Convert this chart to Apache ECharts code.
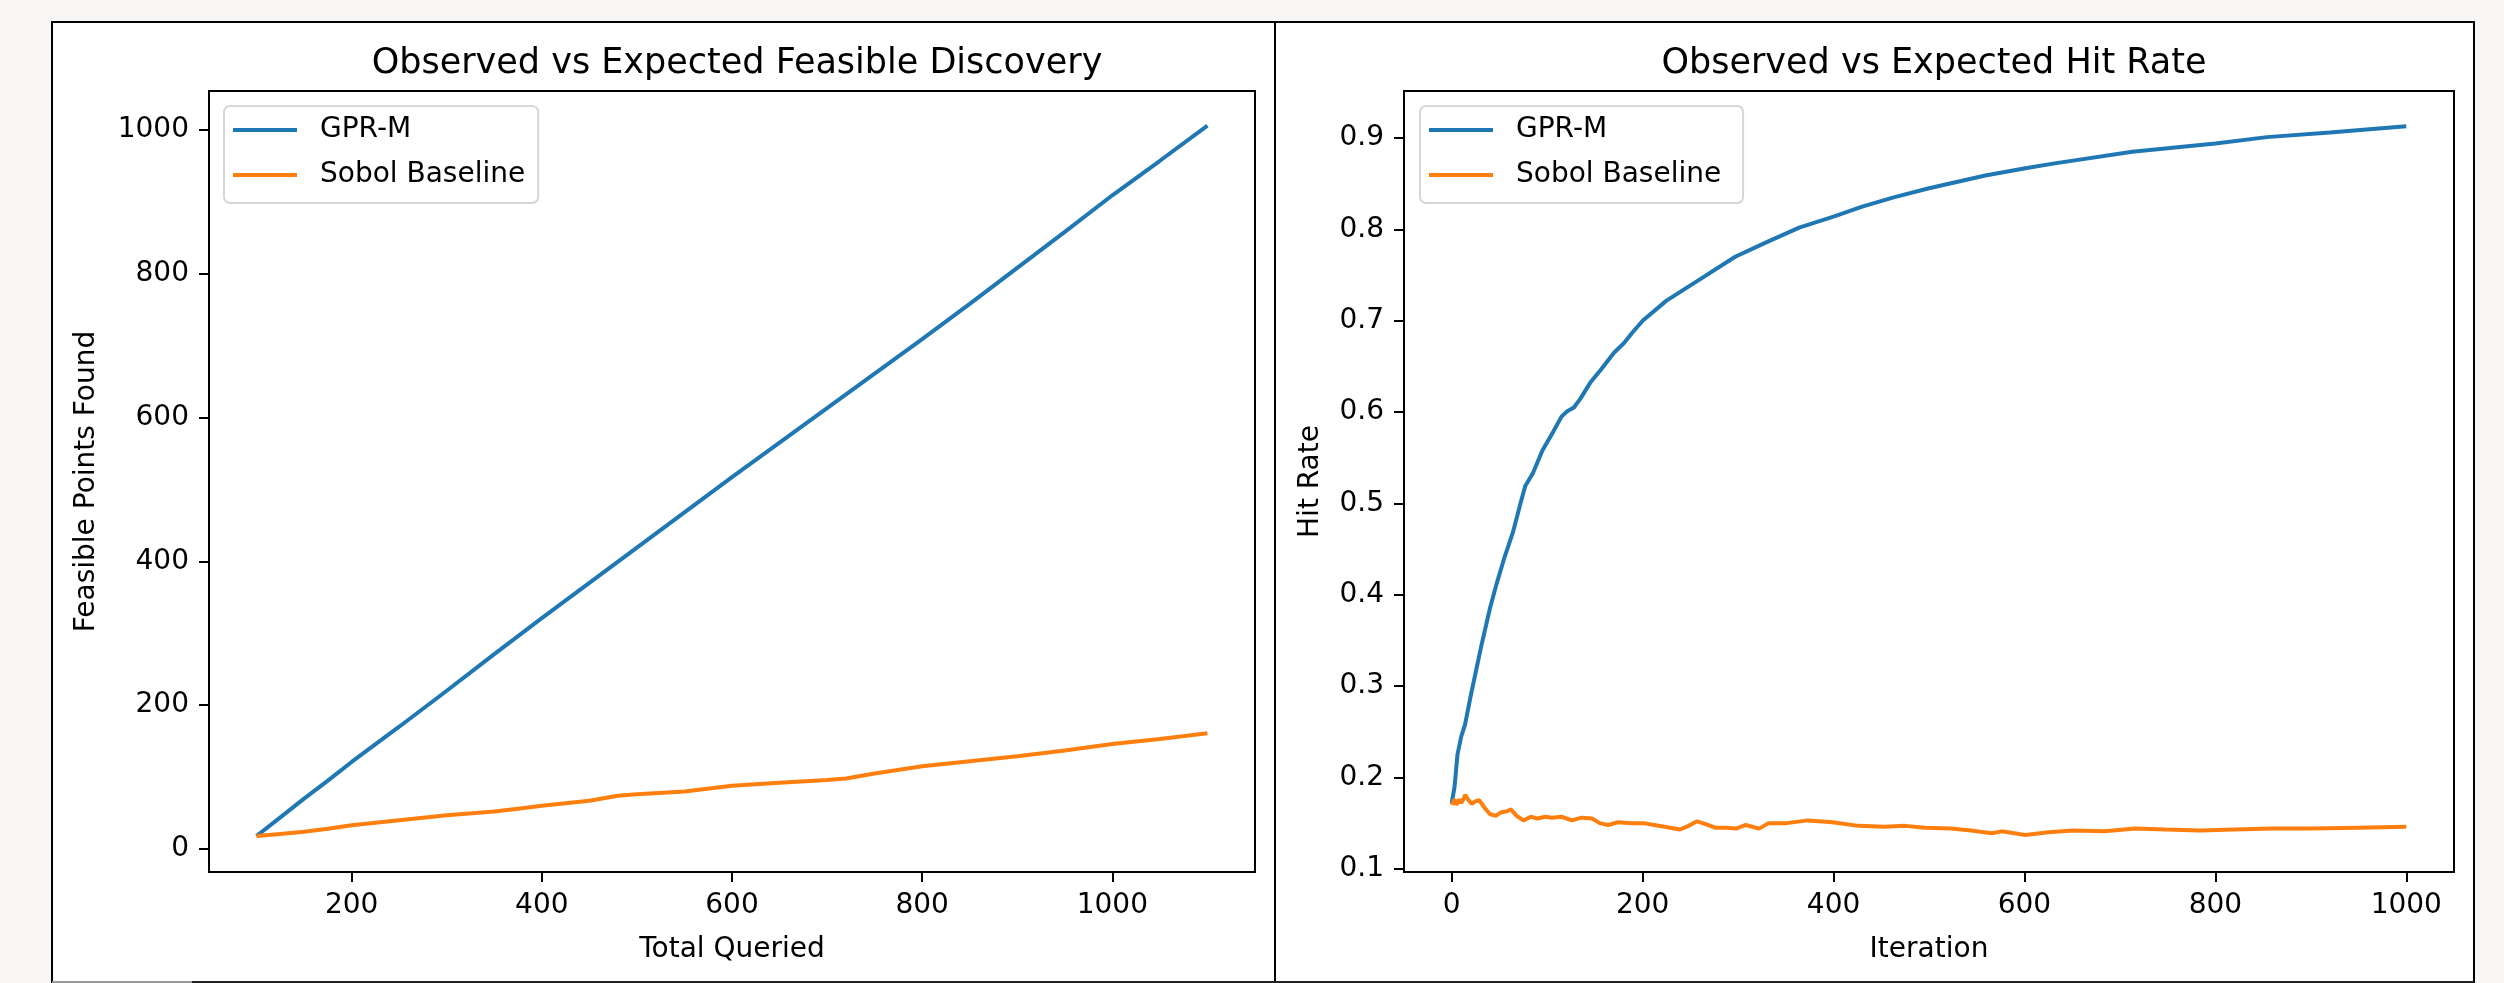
<!DOCTYPE html>
<html>
<head>
<meta charset="utf-8">
<script src="https://cdn.jsdelivr.net/npm/echarts@6/dist/echarts.min.js"></script>
<style>
  html, body { margin: 0; padding: 0; background: #f7f6f4; }
  #chart { width: 2504px; height: 983px; }
</style>
</head>
<body>
<div id="chart"></div>
<script>
// ---------- Left panel: Observed vs Expected Feasible Discovery ----------
const totalQueried = [100, 125, 150, 175, 200, 250, 300, 350, 400, 450, 500, 550, 600, 650, 700, 750, 800, 850, 900, 950, 1000, 1050, 1100];
const gprFeasible  = [18, 44, 70, 95, 121, 170, 220, 271, 321, 370, 419, 468, 517, 565, 613, 661, 709, 758, 808, 858, 909, 957, 1006];
const sobolTotal   = [100, 125, 150, 175, 200, 250, 300, 350, 375, 400, 450, 480, 500, 550, 600, 650, 700, 720, 750, 800, 850, 900, 950, 1000, 1050, 1100];
const sobolFeasible= [18, 21, 24, 28, 33, 40, 47, 52, 56, 60, 67, 74, 76, 80, 88, 92, 96, 98, 105, 115, 122, 129, 137, 146, 153, 161];

// ---------- Right panel: Observed vs Expected Hit Rate ----------
const gprIter = [0, 3, 6, 10, 14, 20, 31, 40, 47, 55, 64, 72, 77, 85, 95, 106, 115, 121, 128, 135, 145, 156, 170, 180, 190, 200, 225, 255, 297, 330, 364, 400, 430, 463, 500, 559, 601, 630, 713, 800, 854, 920, 1000];
const gprHit  = [0.172, 0.19, 0.225, 0.245, 0.258, 0.29, 0.344, 0.385, 0.412, 0.44, 0.468, 0.50, 0.519, 0.533, 0.558, 0.578, 0.595, 0.601, 0.605, 0.615, 0.632, 0.646, 0.665, 0.675, 0.688, 0.700, 0.722, 0.742, 0.770, 0.786, 0.802, 0.814, 0.825, 0.835, 0.845, 0.859, 0.867, 0.872, 0.885, 0.894, 0.901, 0.906, 0.913];
const sobolIter = [0, 3, 5, 8, 10, 13, 14, 17, 21, 25, 29, 35, 40, 46, 52, 58, 62, 68, 75, 83, 90, 98, 105, 115, 126, 136, 147, 155, 164, 174, 188, 201, 212, 223, 239, 248, 257, 266, 276, 287, 298, 308, 322, 332, 351, 373, 399, 426, 453, 475, 496, 523, 544, 566, 576, 601, 625, 651, 684, 716, 748, 784, 820, 860, 900, 950, 1000];
const sobolHit  = [0.170, 0.176, 0.170, 0.176, 0.172, 0.178, 0.181, 0.176, 0.171, 0.174, 0.175, 0.166, 0.160, 0.158, 0.162, 0.163, 0.165, 0.158, 0.153, 0.157, 0.155, 0.157, 0.156, 0.157, 0.153, 0.156, 0.155, 0.150, 0.148, 0.151, 0.150, 0.150, 0.148, 0.146, 0.143, 0.147, 0.152, 0.149, 0.145, 0.145, 0.144, 0.148, 0.144, 0.150, 0.150, 0.153, 0.151, 0.147, 0.146, 0.147, 0.145, 0.144, 0.142, 0.139, 0.141, 0.137, 0.140, 0.142, 0.141, 0.144, 0.143, 0.142, 0.143, 0.144, 0.144, 0.145, 0.146];

const leftXTicks  = [200, 400, 600, 800, 1000];
const leftYTicks  = [0, 200, 400, 600, 800, 1000];
const rightXTicks = [0, 200, 400, 600, 800, 1000];
const rightYTicks = [0.1, 0.2, 0.3, 0.4, 0.5, 0.6, 0.7, 0.8, 0.9];

const BLUE = '#1f77b4', ORANGE = '#ff7f0e';
const FONT = 'DejaVu Sans';
const zip = (a, b) => a.map((v, i) => [v, b[i]]);

function axisCommon(ticks, fmt, margin) {
  return {
    axisLine: { show: true, onZero: false, lineStyle: { color: '#000', width: 2 } },
    axisTick: { show: true, inside: false, length: 10, lineStyle: { color: '#000', width: 2 }, customValues: ticks },
    axisLabel: { show: true, color: '#000', fontFamily: FONT, fontSize: 28, margin: margin, customValues: ticks, formatter: fmt },
    splitLine: { show: false },
    nameTextStyle: { color: '#000', fontFamily: FONT, fontSize: 28 }
  };
}

const chart = echarts.init(document.getElementById('chart'), null, { renderer: 'canvas' });
chart.setOption({
  animation: false,
  backgroundColor: '#f7f6f4',
  graphic: [
    { type: 'rect', z: -100, shape: { x: 52, y: 22, width: 2422, height: 980 }, style: { fill: '#fff', stroke: '#000', lineWidth: 2 } },
    { type: 'line', z: -90, shape: { x1: 1275, y1: 22, x2: 1275, y2: 983 }, style: { stroke: '#000', lineWidth: 2 } },
    { type: 'line', z: -90, shape: { x1: 192, y1: 982, x2: 2474, y2: 982 }, style: { stroke: '#222', lineWidth: 2 } },
    { type: 'line', z: -90, shape: { x1: 52, y1: 982, x2: 192, y2: 982 }, style: { stroke: '#999', lineWidth: 2 } }
  ],
  title: [
    { text: 'Observed vs Expected Feasible Discovery', left: 732, top: 41, textAlign: 'center',
      textStyle: { fontFamily: FONT, fontSize: 35, fontWeight: 'normal', color: '#000' } },
    { text: 'Observed vs Expected Hit Rate', left: 1929, top: 41, textAlign: 'center',
      textStyle: { fontFamily: FONT, fontSize: 35, fontWeight: 'normal', color: '#000' } }
  ],
  legend: [
    { orient: 'vertical', left: 224, top: 106, padding: [10, 13, 14, 9],
      itemWidth: 64, itemHeight: 4, itemGap: 17, icon: 'rect',
      backgroundColor: '#fff', borderColor: '#d6d6d6', borderWidth: 2, borderRadius: 6,
      textStyle: { fontFamily: FONT, fontSize: 28, color: '#000', padding: [0, 0, 0, 18] },
      data: ['GPR-M', 'Sobol Baseline'] },
    { orient: 'vertical', left: 1420, top: 106, padding: [10, 13, 14, 9],
      itemWidth: 64, itemHeight: 4, itemGap: 17, icon: 'rect',
      backgroundColor: '#fff', borderColor: '#d6d6d6', borderWidth: 2, borderRadius: 6,
      textStyle: { fontFamily: FONT, fontSize: 28, color: '#000', padding: [0, 0, 0, 18] },
      data: ['GPR-M ', 'Sobol Baseline '] }
  ],
  grid: [
    { left: 209, top: 91, width: 1046, height: 781, show: true, borderColor: '#000', borderWidth: 2, backgroundColor: 'transparent' },
    { left: 1404, top: 91, width: 1050, height: 781, show: true, borderColor: '#000', borderWidth: 2, backgroundColor: 'transparent' }
  ],
  xAxis: [
    Object.assign({ type: 'value', gridIndex: 0, min: 50, max: 1150, name: 'Total Queried', nameLocation: 'middle', nameGap: 64 },
      axisCommon(leftXTicks, v => String(v), 20)),
    Object.assign({ type: 'value', gridIndex: 1, min: -50, max: 1050, name: 'Iteration', nameLocation: 'middle', nameGap: 64 },
      axisCommon(rightXTicks, v => String(v), 20))
  ],
  yAxis: [
    Object.assign({ type: 'value', gridIndex: 0, min: -32, max: 1054, name: 'Feasible Points Found', nameLocation: 'middle', nameGap: 108, nameRotate: 90 },
      axisCommon(leftYTicks, v => String(v), 20)),
    Object.assign({ type: 'value', gridIndex: 1, min: 0.0965, max: 0.9515, name: 'Hit Rate', nameLocation: 'middle', nameGap: 79, nameRotate: 90 },
      axisCommon(rightYTicks, v => v.toFixed(1), 20))
  ],
  series: [
    { name: 'GPR-M', type: 'line', xAxisIndex: 0, yAxisIndex: 0, data: zip(totalQueried, gprFeasible),
      showSymbol: false, symbol: 'none', color: BLUE, lineStyle: { width: 4, color: BLUE }, z: 3 },
    { name: 'Sobol Baseline', type: 'line', xAxisIndex: 0, yAxisIndex: 0, data: zip(sobolTotal, sobolFeasible),
      showSymbol: false, symbol: 'none', color: ORANGE, lineStyle: { width: 4, color: ORANGE }, z: 4 },
    { name: 'GPR-M ', type: 'line', xAxisIndex: 1, yAxisIndex: 1, data: zip(gprIter, gprHit),
      showSymbol: false, symbol: 'none', color: BLUE, lineStyle: { width: 4, color: BLUE }, z: 3 },
    { name: 'Sobol Baseline ', type: 'line', xAxisIndex: 1, yAxisIndex: 1, data: zip(sobolIter, sobolHit),
      showSymbol: false, symbol: 'none', color: ORANGE, lineStyle: { width: 4, color: ORANGE }, z: 4 }
  ]
});
</script>
</body>
</html>
